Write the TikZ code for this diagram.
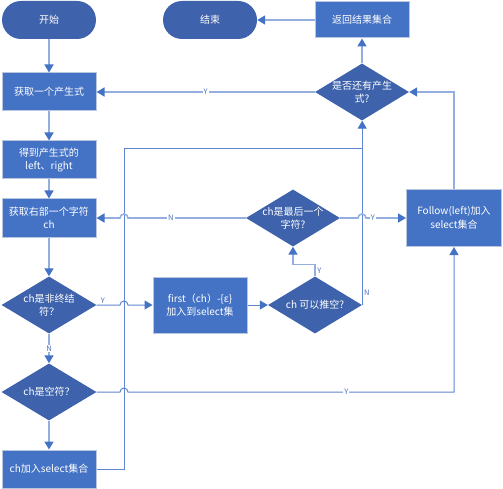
\documentclass[tikz,border=0pt]{standalone}
\usepackage{fontspec}
\setmainfont{Noto Sans CJK SC}
\usetikzlibrary{shapes.geometric,arrows.meta,calc}
\definecolor{boxfill}{HTML}{4472C4}
\definecolor{boxline}{HTML}{B9C6DE}
\definecolor{dfill}{HTML}{3E63AC}
\definecolor{lightln}{HTML}{94AEE0}
\definecolor{darkln}{HTML}{5F86D0}
\definecolor{tipc}{HTML}{4472C4}
\definecolor{lblc}{HTML}{4A6FC0}
\begin{document}
\begin{tikzpicture}[x=1pt,y=-1pt,
 every node/.style={font=\fontsize{10}{13.5}\selectfont, text=white, align=center},
 procbox/.style={rectangle, fill=boxfill, draw=boxline, line width=1pt, minimum width=94pt, minimum height=38pt, inner sep=1pt},
 termbox/.style={rectangle, rounded corners=19pt, fill=dfill, minimum width=94pt, minimum height=38pt},
 decbox/.style={diamond, fill=dfill, minimum width=95pt, minimum height=57pt, inner sep=0pt, aspect=1.667},
 conn/.style={draw=lightln, line width=1.6pt, -{Triangle[length=8pt,width=9pt,color=tipc]}},
 thinconn/.style={draw=darkln, line width=1pt, -{Triangle[length=8pt,width=9pt,color=tipc]}},
 plainln/.style={draw=darkln, line width=1pt},
 lbl/.style={font=\fontsize{7.5}{8}\selectfont, text=lblc, fill=white, inner sep=1pt},
 lbln/.style={font=\fontsize{7.5}{8}\selectfont, text=lblc, inner sep=1.5pt}]
\useasboundingbox (0,0) rectangle (503,489);

\node[termbox] (start) at (49,20) {开始};
\node[termbox] (end) at (210,20) {结束};
\node[procbox, minimum height=36pt] (ret) at (362,20) {返回结果集合};
\node[procbox] (get1) at (49,92) {获取一个产生式};
\node[procbox] (lr) at (49,160) {得到产生式的\\left、right};
\node[procbox] (getch) at (49,218) {获取右部一个字符\\ch};
\node[decbox, label={center:{ch是非终结\\符？}}] (dnt) at (49,305) {};
\node[decbox, label={center:{ch是空符？}}] (dempty) at (49,392) {};
\node[procbox] (addch) at (49,469) {ch加入select集合};
\node[procbox, minimum height=56pt] (first) at (200,305) {first（ch）-\{ε\}\\加入到select集};
\node[decbox, minimum width=94pt, label={center:{ch 可以推空?}}] (dnull) at (315,305) {};
\node[decbox, minimum width=94pt, label={center:{ch是最后一个\\字符?}}] (dlast) at (293,218) {};
\node[decbox, minimum width=94pt, label={center:{是否还有产生\\式?}}] (dmore) at (362,92) {};
\node[procbox, minimum width=95pt, minimum height=57pt] (follow) at (454,218) {Follow(left)加入\\select集合};
\coordinate (vl) at (124,149);

% main vertical chain
\draw[conn] (start) -- (get1);
\draw[conn] (get1) -- (lr);
\draw[conn] (lr) -- (getch);
\draw[conn] (getch) -- (dnt);
\draw[conn] (dnt) -- node[lbl]{N} (dempty);
\draw[conn] (dempty) -- (addch);

% return path from addch
\draw[plainln] (addch.east) -- (addch.east -| vl) -- (vl) -- (vl -| dmore.south);

% non-terminal -> first
\draw[thinconn] (dnt.east) -- node[lbln, pos=0.26, above]{Y} ([xshift=-4pt]dnt.east -| vl) arc[start angle=180, end angle=360, radius=4] -- (first.west);
\draw[thinconn] (first.east) -- (dnull.west);

% nullable?
\draw[conn] (dnull.north) -- node[lbln, pos=0.5, right]{Y} ++(0,-12) -| (dlast.south);
\draw[thinconn] (dnull.east) -- node[lbln, pos=0.065, right]{N} (dnull.east |- dmore.south);

% last char?
\draw[conn] (dlast.west) -- node[lbl, pos=0.636]{N} ([xshift=4pt]dlast.west -| vl) arc[start angle=0, end angle=-180, radius=4] -- (getch.east);
\draw[conn] (dlast.east) -- ([xshift=-4pt]dlast.east -| dmore.south) arc[start angle=180, end angle=360, radius=4] -- node[lbl, pos=0.17]{Y} (follow.west);

% empty symbol?
\draw[thinconn] (dempty.east) -- ([xshift=-4pt]dempty.east -| vl) arc[start angle=180, end angle=360, radius=4] -- node[lbl, pos=0.67]{Y} (dempty.east -| follow.south) -- (follow.south);

% follow -> more productions
\draw[conn] (follow.north) -- (follow.north |- dmore.east) -- (dmore.east);

% more productions?
\draw[conn] (dmore.west) -- node[lbl]{Y} (get1.east);
\draw[conn] (dmore.north) -- (ret.south);
\draw[conn] (ret.west) -- (end.east);
\end{tikzpicture}
\end{document}
